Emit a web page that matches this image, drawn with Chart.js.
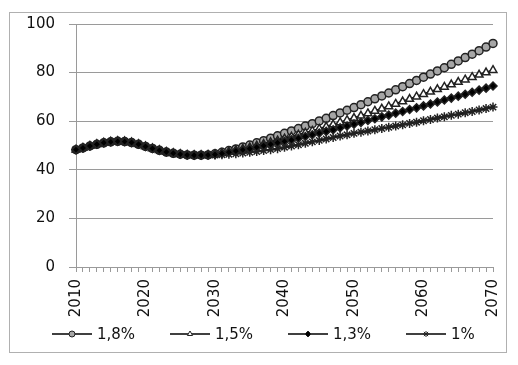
<!DOCTYPE html>
<html>
<head>
<script src="https://cdn.jsdelivr.net/npm/chart.js@4.4.1/dist/chart.umd.min.js"></script>
<title>Scenarios 2010-2070</title>
<style>
    body { margin: 0; background: #fff; }
    #wrap { width: 518px; height: 365px; }
</style>
</head>
<body>
<div id="wrap"><canvas id="chart" width="518" height="365"></canvas></div>
<script>
    // x axis: one category per year
    const firstYear = 2010;
    const lastYear = 2070;
    const years = [];
    for (let y = firstYear; y <= lastYear; y++) years.push(y);

    const yTicks = { min: 0, max: 100, step: 20 };

    // 2010-2029, identical for every scenario
    const common = [48.3, 49.0, 49.8, 50.5, 51.1, 51.5, 51.7, 51.6, 51.2, 50.5,
                    49.6, 48.8, 48.0, 47.3, 46.8, 46.4, 46.1, 46.0, 46.0, 46.1];

    // 2030-2070
    const rate18 = [46.6, 47.2, 47.9, 48.6, 49.4, 50.2, 51.1, 52.0, 53.0, 54.0,
                    55.0, 56.0, 57.0, 58.0, 59.0, 60.1, 61.2, 62.3, 63.4, 64.5,
                    65.6, 66.8, 68.0, 69.2, 70.4, 71.6, 72.9, 74.2, 75.5, 76.8,
                    78.1, 79.4, 80.7, 82.0, 83.4, 84.8, 86.2, 87.6, 89.0, 90.5, 92.0];
    const rate15 = [46.4, 46.9, 47.4, 48.0, 48.6, 49.2, 49.9, 50.6, 51.3, 52.0,
                    52.8, 53.6, 54.4, 55.2, 56.0, 56.8, 57.7, 58.6, 59.5, 60.4,
                    61.3, 62.2, 63.2, 64.2, 65.1, 66.1, 67.1, 68.1, 69.1, 70.1,
                    71.1, 72.1, 73.1, 74.1, 75.1, 76.1, 77.1, 78.1, 79.1, 80.0, 81.0];
    const rate13 = [46.3, 46.7, 47.2, 47.7, 48.2, 48.7, 49.3, 49.9, 50.5, 51.1,
                    51.7, 52.3, 53.0, 53.7, 54.4, 55.1, 55.8, 56.5, 57.3, 58.0,
                    58.8, 59.5, 60.3, 61.0, 61.8, 62.5, 63.3, 64.0, 64.8, 65.5,
                    66.3, 67.1, 67.9, 68.7, 69.5, 70.3, 71.1, 71.9, 72.8, 73.6, 74.5];
    const rate10 = [46.1, 46.2, 46.4, 46.6, 46.9, 47.2, 47.5, 47.9, 48.3, 48.7,
                    49.3, 49.8, 50.3, 50.9, 51.5, 52.1, 52.7, 53.3, 53.9, 54.4,
                    55.0, 55.5, 56.0, 56.5, 57.0, 57.5, 58.0, 58.5, 59.1, 59.6,
                    60.2, 60.7, 61.3, 61.8, 62.4, 62.9, 63.5, 64.0, 64.6, 65.2, 65.8];

    const seriesNames = ['1,8%', '1,5%', '1,3%', '1%'];
    const seriesData = [rate18, rate15, rate13, rate10].map(s => common.concat(s));
    const markers = [
        { style: 'circle', fill: '#a6a6a6', radius: 4, order: 3 },
        { style: 'triangle', fill: '#ffffff', radius: 4.5, order: 2 },
        { style: 'rectRot', fill: '#000000', radius: 4, order: 0 },
        { style: 'star', fill: '#000000', radius: 4.5, order: 1 }
    ];

    const textColor = '#111';
    const gridColor = '#9a9a9a';
    const font = { family: 'DejaVu Sans', size: 15 };

    // frame around the whole chart, like the spreadsheet chart area
    const framePlugin = {
        id: 'frame',
        beforeDraw(chart) {
            const ctx = chart.ctx;
            ctx.save();
            ctx.fillStyle = '#fff';
            ctx.fillRect(0, 0, chart.width, chart.height);
            ctx.strokeStyle = '#b0b0b0';
            ctx.lineWidth = 1;
            ctx.strokeRect(9.5, 12.5, 497, 340);
            ctx.restore();
        }
    };

    // legend with a short line and the marker in its middle
    const lineLegend = {
        id: 'lineLegend',
        afterDraw(chart) {
            const ctx = chart.ctx;
            const y = 334;
            ctx.save();
            chart.data.datasets.forEach((ds, i) => {
                const x = 52 + i * 118;
                ctx.strokeStyle = '#000';
                ctx.lineWidth = 1.5;
                ctx.beginPath();
                ctx.moveTo(x, y);
                ctx.lineTo(x + 40, y);
                ctx.stroke();
                ctx.fillStyle = ds.pointBackgroundColor;
                ctx.strokeStyle = '#222';
                ctx.lineWidth = 1;
                Chart.helpers.drawPoint(ctx, { pointStyle: ds.pointStyle, radius: 3, rotation: 0, borderWidth: 1 }, x + 20, y);
                ctx.fillStyle = textColor;
                ctx.font = font.size + 'px "' + font.family + '"';
                ctx.textBaseline = 'middle';
                ctx.textAlign = 'left';
                ctx.fillText(ds.label, x + 45, y + 1);
            });
            ctx.restore();
        }
    };

    new Chart(document.getElementById('chart'), {
        type: 'line',
        data: {
            labels: years,
            datasets: seriesNames.map((name, i) => ({
                label: name,
                data: seriesData[i],
                order: markers[i].order,
                borderColor: '#000',
                borderWidth: 2,
                pointStyle: markers[i].style,
                pointRadius: markers[i].radius,
                pointBackgroundColor: markers[i].fill,
                pointBorderColor: '#222',
                pointBorderWidth: 1.5,
                tension: 0
            }))
        },
        options: {
            responsive: false,
            animation: false,
            devicePixelRatio: 1,
            layout: { padding: { top: 24, right: 25, left: 0, bottom: 0 } },
            plugins: {
                legend: { display: false },
                tooltip: { enabled: false }
            },
            scales: {
                x: {
                    type: 'category',
                    offset: false,
                    grid: { drawOnChartArea: false, color: gridColor, tickLength: 5 },
                    border: { color: gridColor },
                    ticks: {
                        autoSkip: false,
                        maxRotation: 90,
                        minRotation: 90,
                        padding: 7,
                        color: textColor,
                        font: font,
                        callback: (v, i) => (years[i] % 10 === 0 ? String(years[i]) : '')
                    },
                    afterFit: s => { s.height = 98; }
                },
                y: {
                    min: yTicks.min,
                    max: yTicks.max,
                    grid: { color: gridColor, tickLength: 7 },
                    border: { color: gridColor },
                    ticks: { stepSize: yTicks.step, padding: 14, color: textColor, font: font },
                    afterFit: s => { s.width = 76; }
                }
            }
        },
        plugins: [framePlugin, lineLegend]
    });
</script>
</body>
</html>
